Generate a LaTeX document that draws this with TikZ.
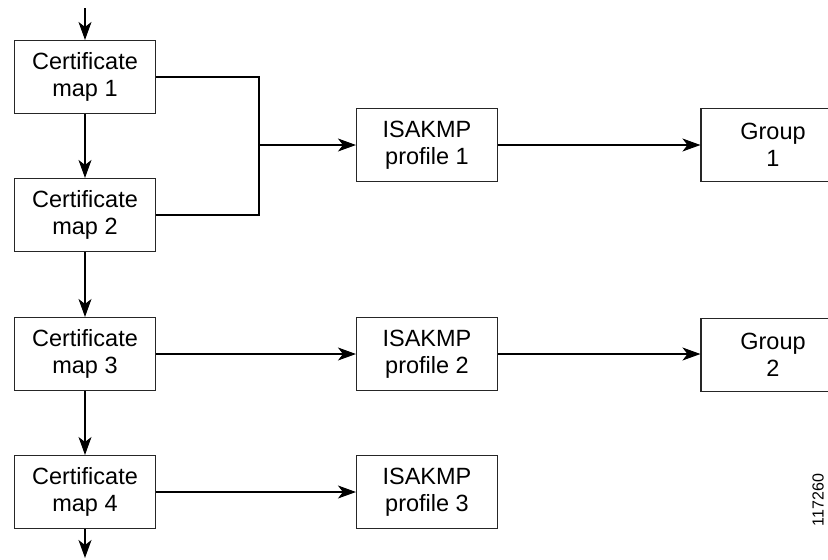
\documentclass[tikz,border=0pt]{standalone}
\usepackage{fontspec}
\setmainfont{Liberation Sans}
\usetikzlibrary{arrows.meta}
\begin{document}
\begin{tikzpicture}[x=1pt,y=-1pt,
  box/.style={draw=black!85, line width=1.1pt, minimum width=141pt, minimum height=73pt,
    inner sep=0pt, align=center, font=\fontsize{23.5}{27}\selectfont},
  conn/.style={line width=1.1pt, -{Stealth[length=18pt, width=13pt, inset=5pt]}},
  plain/.style={line width=1.1pt}]
\useasboundingbox (0,0) rectangle (828,560);
\clip (0,0) rectangle (828,560);
\node[box] (c1) at (85,77) {Certificate\\map 1};
\node[box] (c2) at (85,215) {Certificate\\map 2};
\node[box] (c3) at (85,354) {Certificate\\map 3};
\node[box] (c4) at (85,492) {Certificate\\map 4};
\node[box] (i1) at (427,145) {ISAKMP\\profile 1};
\node[box] (i2) at (427,354) {ISAKMP\\profile 2};
\node[box] (i3) at (427,492) {ISAKMP\\profile 3};
\node[box, minimum width=144pt] (g1) at (773,145) {Group\\1};
\node[box, minimum width=144pt] (g2) at (773,355) {Group\\2};
\coordinate (top) at (85,8);
\coordinate (bot) at (85,558);
\coordinate (j1) at (259,77);
\coordinate (j2) at (259,215);
\coordinate (jm) at (259,145);
\draw[conn] (top) -- (c1.north);
\draw[conn] (c1) -- (c2);
\draw[conn] (c2) -- (c3);
\draw[conn] (c3) -- (c4);
\draw[conn] (c4) -- (bot);
\draw[plain] (c1.east) -- (j1) -- (j2) -- (c2.east);
\draw[conn] (jm) -- (i1.west);
\draw[conn] (i1) -- (g1);
\draw[conn] (c3) -- (i2);
\draw[conn] (i2.east) -- (g2.west |- i2.east);
\draw[conn] (c4) -- (i3);
\node[rotate=90, font=\fontsize{16}{18}\selectfont, inner sep=0pt] (id) at (818,500) {117260};
\end{tikzpicture}
\end{document}
